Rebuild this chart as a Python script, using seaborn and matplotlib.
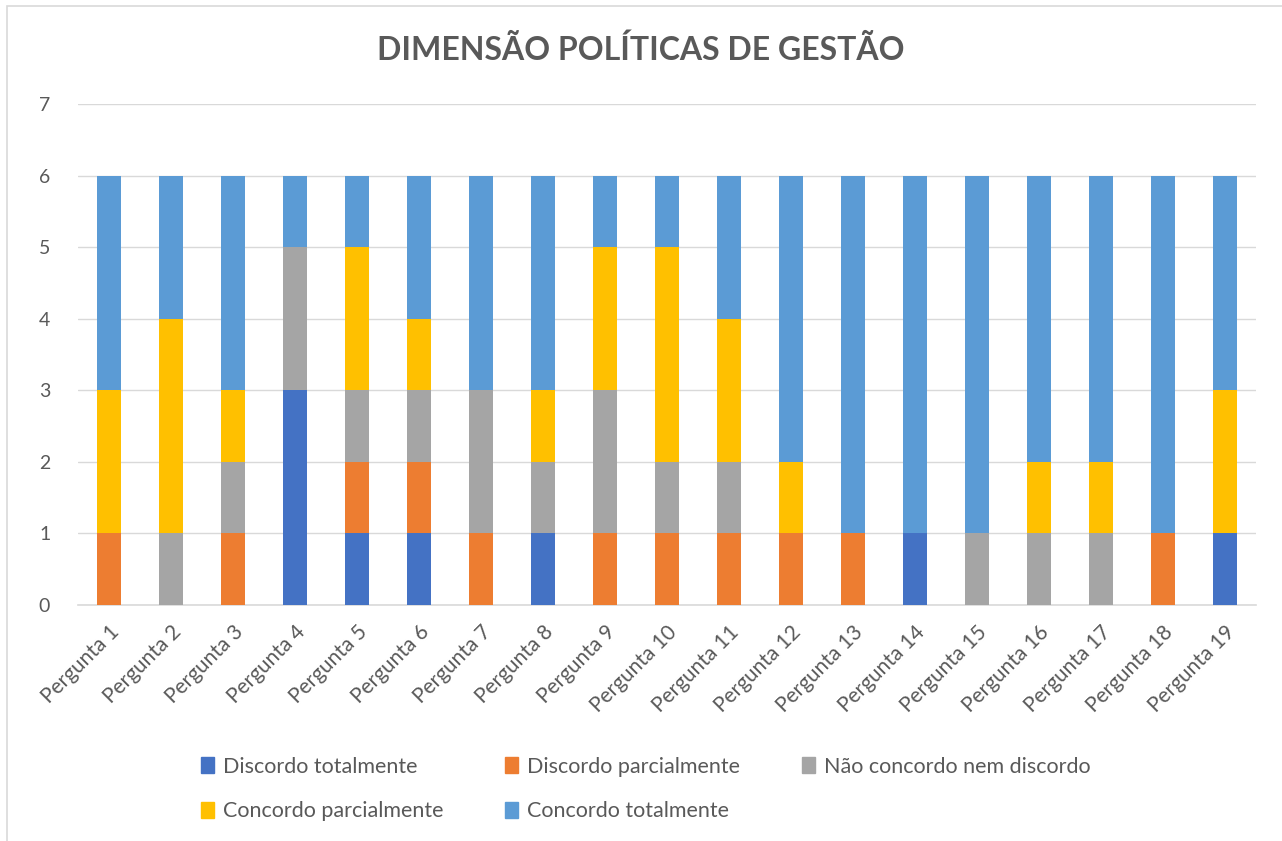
import matplotlib
matplotlib.use("Agg")
import matplotlib.pyplot as plt
import seaborn as sns
import pandas as pd
import numpy as np
from matplotlib.patches import Patch, Rectangle

categories = [f"Pergunta {i}" for i in range(1, 20)]
series_names = ["Discordo totalmente", "Discordo parcialmente", "Não concordo nem discordo",
                "Concordo parcialmente", "Concordo totalmente"]
discordo_totalmente   = [0, 0, 0, 3, 1, 1, 0, 1, 0, 0, 0, 0, 0, 1, 0, 0, 0, 0, 1]
discordo_parcialmente = [1, 0, 1, 0, 1, 1, 1, 0, 1, 1, 1, 1, 1, 0, 0, 0, 0, 1, 0]
nao_concordo          = [0, 1, 1, 2, 1, 1, 2, 1, 2, 1, 1, 0, 0, 0, 1, 1, 1, 0, 0]
concordo_parcialmente = [2, 3, 1, 0, 2, 1, 0, 1, 2, 3, 2, 1, 0, 0, 0, 1, 1, 0, 2]
concordo_totalmente   = [3, 2, 3, 1, 1, 2, 3, 3, 1, 1, 2, 4, 5, 5, 5, 4, 4, 5, 3]
colors = ["#4472C4", "#ED7D31", "#A5A5A5", "#FFC000", "#5B9BD5"]

sns.set_theme(style="white")
plt.rcParams['font.family'] = ['Lato', 'DejaVu Sans']

fig = plt.figure(figsize=(12.82, 8.41), dpi=100)
ax = fig.add_axes([78 / 1282, 1 - 605 / 841, (1256 - 78) / 1282, (605 - 104) / 841])

series = [discordo_totalmente, discordo_parcialmente, nao_concordo, concordo_parcialmente, concordo_totalmente]
bottom = np.zeros(len(categories))
for name, vals, c in zip(series_names, series, colors):
    df = pd.DataFrame({"cat": categories, "val": vals})
    sns.barplot(data=df, x="cat", y="val", color=c, bottom=bottom, width=0.39,
                ax=ax, saturation=1, zorder=3, linewidth=0)
    bottom = bottom + np.array(vals)

ax.set_ylim(0, 7)
ax.set_xlim(-0.5, len(categories) - 0.5)
ax.set_yticks(range(0, 8))
ax.yaxis.grid(True, color="#D9D9D9", linewidth=1, zorder=0)
ax.set_axisbelow(True)
for s in ["top", "right", "left"]:
    ax.spines[s].set_visible(False)
ax.spines["bottom"].set_color("#D9D9D9")
ax.spines["bottom"].set_linewidth(1.2)
ax.set_xlabel("")
ax.set_ylabel("")
ax.tick_params(axis="both", colors="#595959", labelsize=14, length=0)
ax.tick_params(axis="x", labelsize=15, pad=12)
plt.setp(ax.get_xticklabels(), rotation=45, ha="right", rotation_mode="anchor")
ax.tick_params(axis="y", pad=20)

fig.text(0.5, 1 - 50 / 841, "DIMENSÃO POLÍTICAS DE GESTÃO", ha="center", va="center",
         fontsize=23, fontweight="bold", color="#595959")

handles = [Patch(facecolor=c, edgecolor=c) for c in colors]
order = [0, 3, 1, 4, 2]
leg = fig.legend([handles[i] for i in order], [series_names[i] for i in order],
                 ncol=3, loc="center left", bbox_to_anchor=(201 / 1282, 1 - 789 / 841), frameon=False,
                 fontsize=15.5, handlelength=0.6, handleheight=0.75, columnspacing=2.9,
                 labelspacing=1.15, handletextpad=0.4, borderpad=0, borderaxespad=0)
for t in leg.get_texts():
    t.set_color("#595959")

fig.patches.append(Rectangle((7 / 1282, -0.1), 1.2, 1 - 6 / 841 + 0.1, transform=fig.transFigure,
                             fill=False, edgecolor="#D9D9D9", linewidth=1.2))

fig.savefig("out.png", dpi=100)
